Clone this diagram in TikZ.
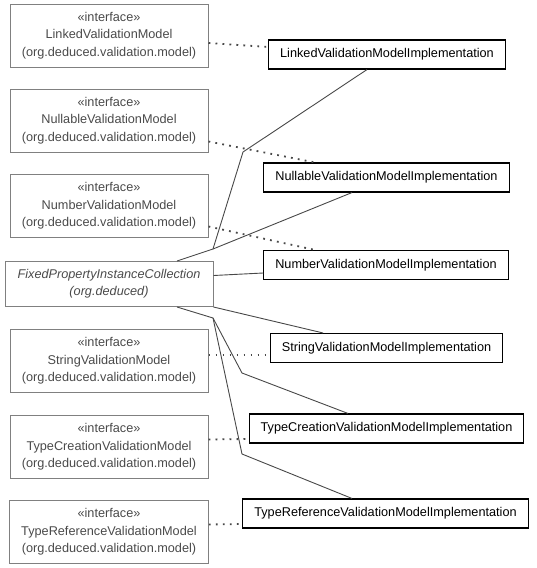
\documentclass[tikz,border=0pt]{standalone}
\usepackage{fontspec}
\setmainfont{Liberation Sans}
\usepackage{tikz}
\usetikzlibrary{positioning}
\definecolor{ifaceline}{HTML}{808080}
\definecolor{ifacetext}{HTML}{4A4A4A}
\definecolor{linkline}{HTML}{484848}

\begin{document}
\begin{tikzpicture}[x=1pt,y=-1pt,font=\fontsize{12.7}{17.5}\selectfont,
  iface/.style={draw=ifaceline,line width=1pt,text=ifacetext,align=center,minimum width=198pt,minimum height=63pt,inner xsep=11.5pt},
  impl/.style={draw=black,line width=1.1pt,minimum height=29pt,inner xsep=11.5pt},
  assoc/.style={draw=linkline,line width=0.9pt},
  realize/.style={draw=linkline,line width=1.8pt,dash pattern=on 1.8pt off 5.2pt}]
  \useasboundingbox (0,0) rectangle (536,568);
  % interfaces on the left
  \node[iface] (linked) at (109,35.5) {«interface»\\LinkedValidationModel\\(org.deduced.validation.model)};
  \node[iface,below=21pt of linked] (nullable) {«interface»\\NullableValidationModel\\(org.deduced.validation.model)};
  \node[iface,below=21.5pt of nullable] (number) {«interface»\\NumberValidationModel\\(org.deduced.validation.model)};
  \node[iface,minimum width=208pt,minimum height=45pt,font=\fontsize{12.7}{17}\selectfont\itshape,below=23pt of number] (fixed) {FixedPropertyInstanceCollection\\(org.deduced)};
  \node[iface,below=22pt of fixed] (string) {«interface»\\StringValidationModel\\(org.deduced.validation.model)};
  \node[iface,below=22pt of string] (creation) {«interface»\\TypeCreationValidationModel\\(org.deduced.validation.model)};
  \node[iface,below=21pt of creation] (reference) {«interface»\\TypeReferenceValidationModel\\(org.deduced.validation.model)};
  % implementations on the right
  \node[impl] (linkedimpl) at (387,54.5) {LinkedValidationModelImplementation};
  \node[impl] (nullableimpl) at (386.5,177.5) {NullableValidationModelImplementation};
  \node[impl] (numberimpl) at (386,265) {NumberValidationModelImplementation};
  \node[impl] (stringimpl) at (386.5,348) {StringValidationModelImplementation};
  \node[impl] (creationimpl) at (386.5,428.5) {TypeCreationValidationModelImplementation};
  \node[impl] (referenceimpl) at (385.5,513.5) {TypeReferenceValidationModelImplementation};
  % bend points
  \coordinate (upper) at (213,249);
  \coordinate (upperlink) at (243,152);
  \coordinate (lower) at (213,318);
  \coordinate (lowercreation) at (242,373);
  \coordinate (lowerreference) at (242,454);
  % associations
  \draw[assoc] ([xshift=68pt]fixed.north) -- (upper) -- (upperlink) -- ([xshift=-20pt]linkedimpl.south);
  \draw[assoc] (upper) -- ([xshift=-34.5pt]nullableimpl.south);
  \draw[assoc] ([yshift=8.5pt]fixed.east) -- ([yshift=-8pt]numberimpl.west);
  \draw[assoc] (fixed.south east) -- ([xshift=-63.5pt]stringimpl.north);
  \draw[assoc] ([xshift=68pt]fixed.south) -- (lower) -- (lowercreation) -- ([xshift=-38.5pt]creationimpl.north);
  \draw[assoc] (lower) -- (lowerreference) -- ([xshift=-33.5pt]referenceimpl.north);
  % realizations
  \draw[realize] ([yshift=-7.5pt]linked.east) -- ([yshift=7.5pt]linkedimpl.west);
  \draw[realize] ([yshift=-21pt]nullable.east) -- ([xshift=-71.5pt]nullableimpl.north);
  \draw[realize] ([yshift=-20.5pt]number.east) -- ([xshift=-71pt]numberimpl.north);
  \draw[realize] ([yshift=6pt]string.east) -- ([yshift=-7pt]stringimpl.west);
  \draw[realize] ([yshift=7.5pt]creation.east) -- ([yshift=-10.5pt]creationimpl.west);
  \draw[realize] ([yshift=7.5pt]reference.east) -- ([yshift=-10.5pt]referenceimpl.west);
\end{tikzpicture}
\end{document}
